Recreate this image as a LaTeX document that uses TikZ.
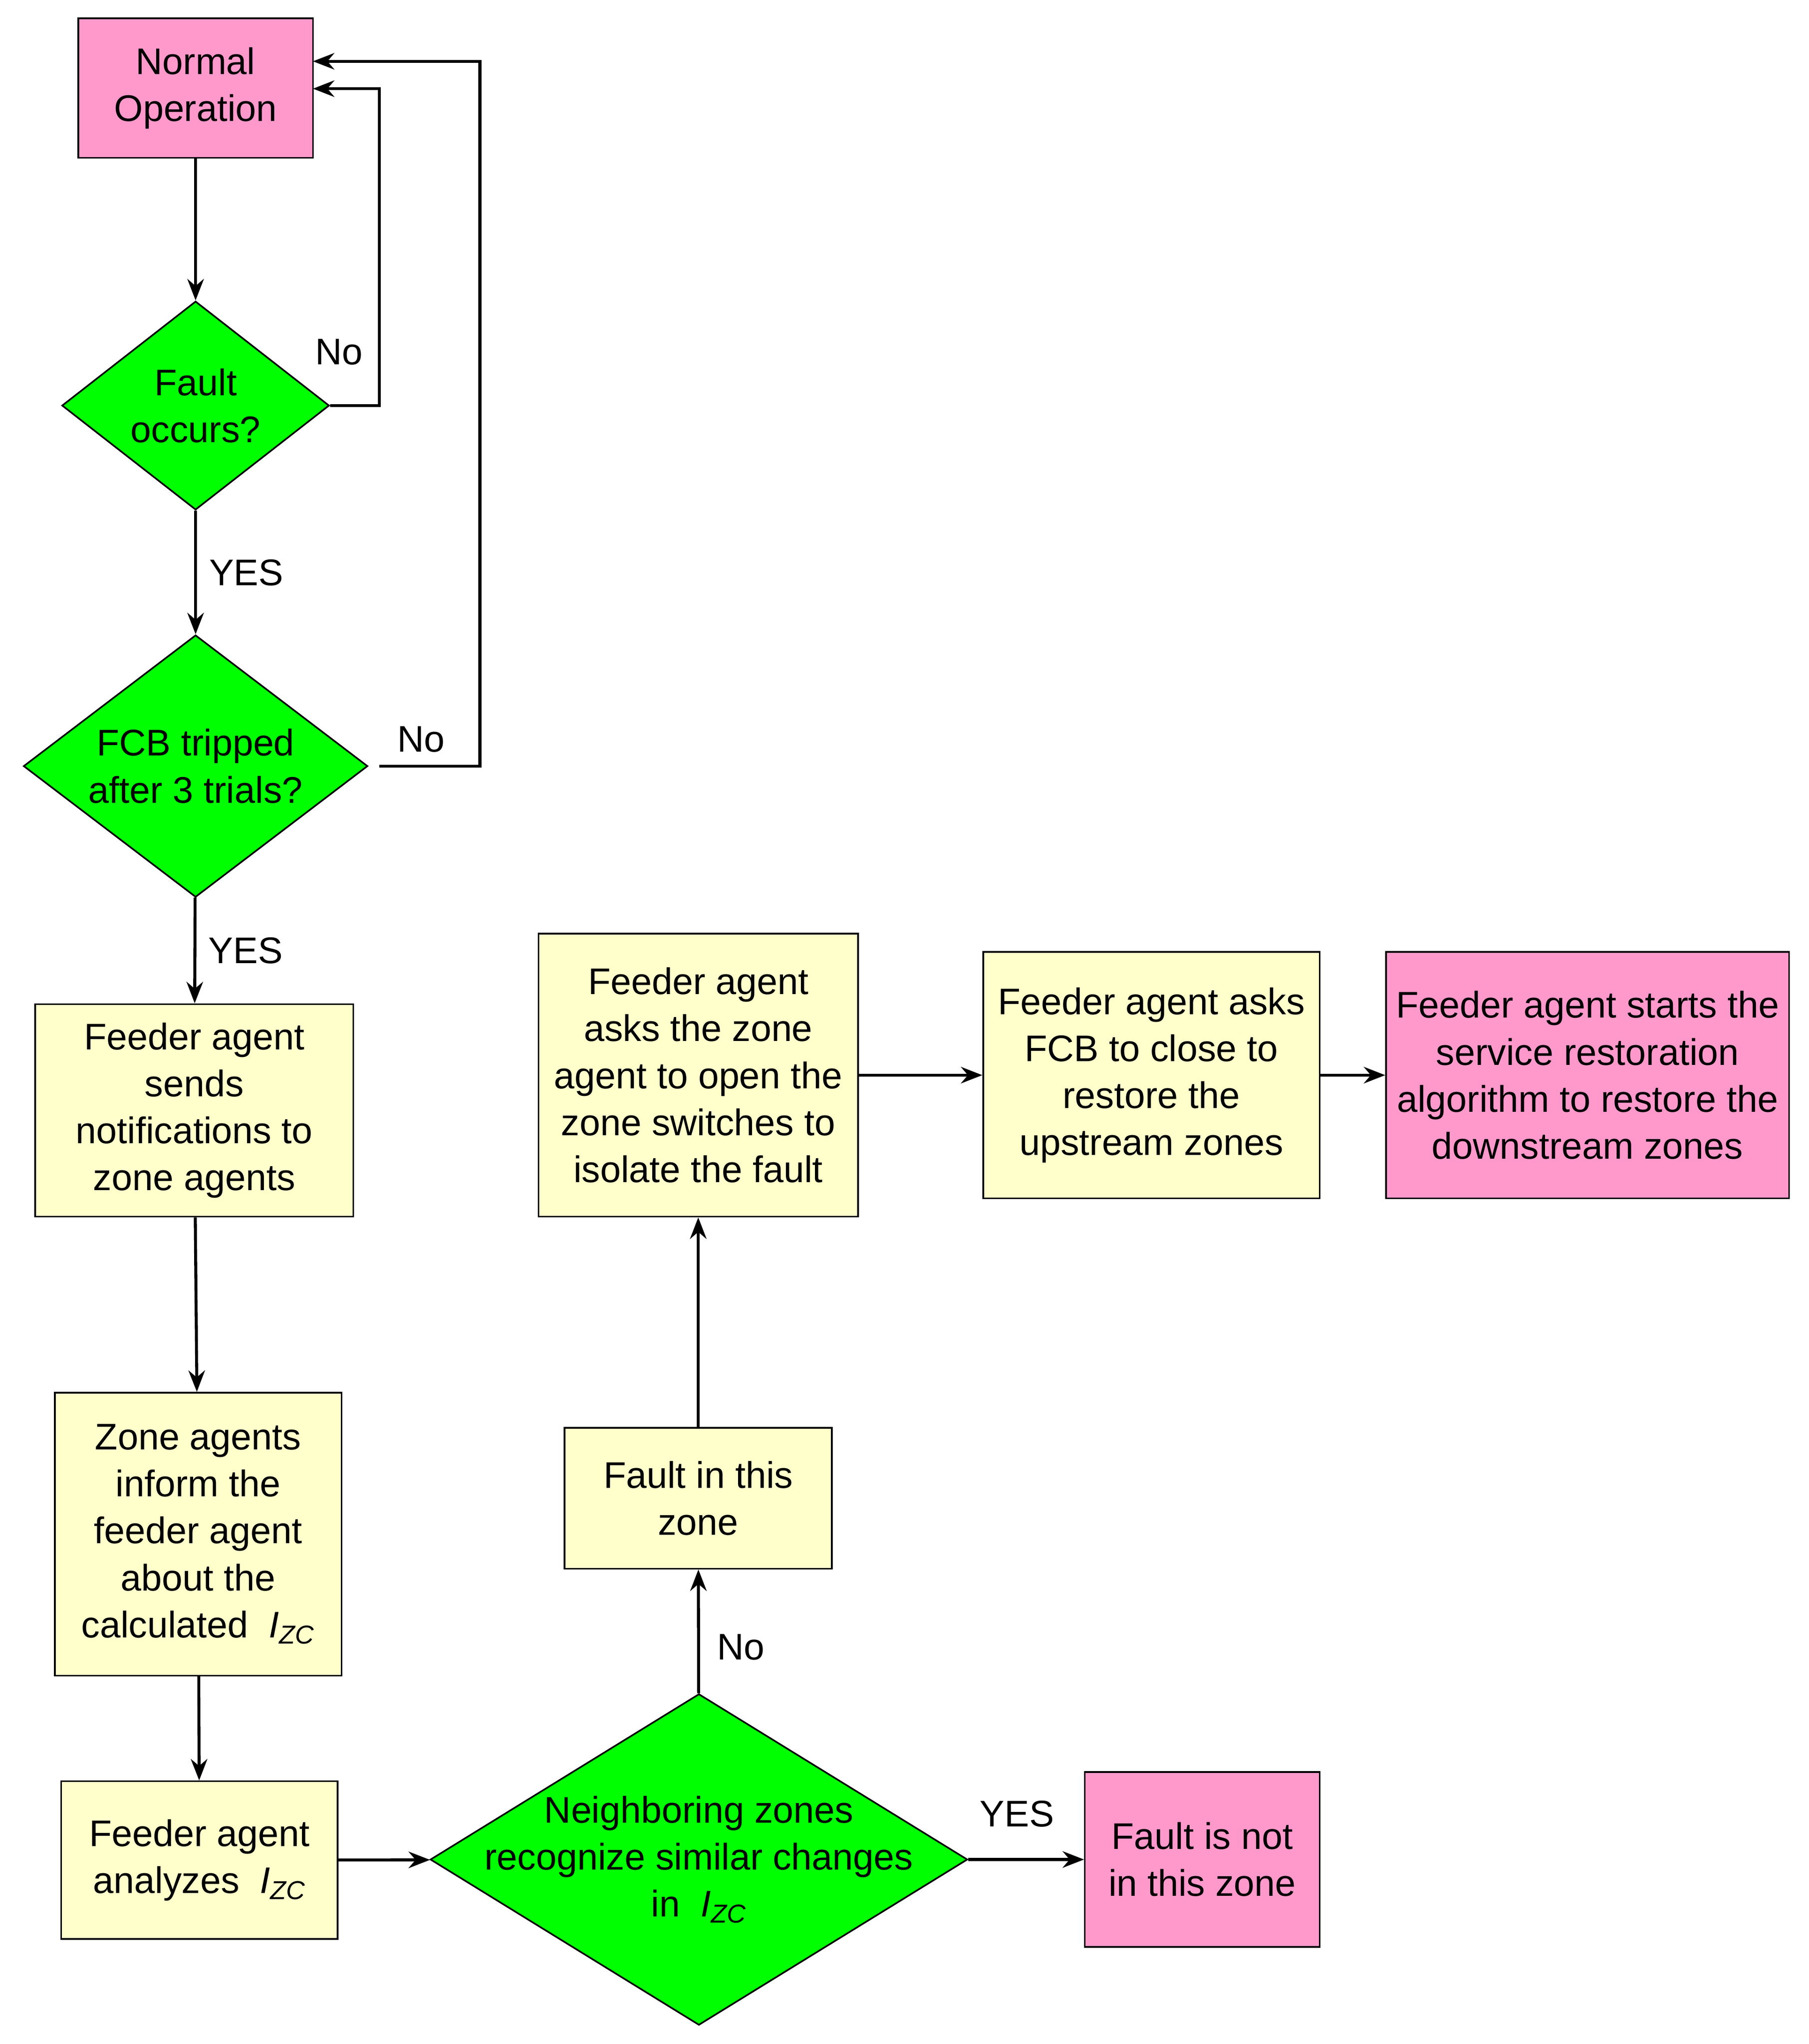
\documentclass[tikz,border=0pt]{standalone}
\usepackage{fontspec}
\setmainfont{Liberation Sans}
\usetikzlibrary{shapes.geometric,arrows.meta}
\def\u{0.02781cm}
\definecolor{pk}{HTML}{FF99CC}
\definecolor{yl}{HTML}{FFFFCC}
\definecolor{gr}{HTML}{00FF00}
\newcommand{\Izc}{\textit{I}\textsubscript{\textit{ZC}}}
\begin{document}
\begin{tikzpicture}[x=0.02781cm,y=-0.02781cm,
  every node/.style={font=\fontsize{22.5}{28.5}\selectfont, align=center},
  box/.style={draw, line width=1pt, inner sep=2pt},
  dia/.style={draw, diamond, line width=1pt, fill=gr, inner sep=0pt},
  arr/.style={line width=1.8pt, -{Stealth[length=13pt,width=10pt]}},
  lab/.style={}]
\useasboundingbox (0,0) rectangle (1387,1567.5);
\node[box,fill=pk,minimum width=180*\u,minimum height=107*\u] (normal) at (150,67.5) {Normal\\Operation};
\node[dia,minimum width=205*\u,minimum height=160*\u,label={center:{Fault\\occurs?}}] (fault) at (150,311) {};
\node[dia,minimum width=264*\u,minimum height=201*\u,label={center:{FCB tripped\\after 3 trials?}}] (fcb) at (150,587.5) {};
\node[box,fill=yl,minimum width=244*\u,minimum height=163*\u] (sends) at (149,851.5) {Feeder agent\\sends\\notifications to\\zone agents};
\node[box,fill=yl,minimum width=220*\u,minimum height=217*\u] (zone) at (152,1176.5) {Zone agents\\inform the\\feeder agent\\about the\\calculated \ \Izc};
\node[box,fill=yl,minimum width=212*\u,minimum height=121*\u] (anal) at (153,1426.5) {Feeder agent\\analyzes \ \Izc};
\node[dia,minimum width=412*\u,minimum height=254*\u,label={center:{Neighboring zones\\recognize similar changes\\in \ \Izc}}] (neigh) at (536,1426) {};
\node[box,fill=pk,minimum width=180*\u,minimum height=134*\u] (not) at (922,1426) {Fault is not\\in this zone};
\node[box,fill=yl,minimum width=205*\u,minimum height=108*\u] (inzone) at (535.5,1149) {Fault in this\\zone};
\node[box,fill=yl,minimum width=245*\u,minimum height=217*\u] (asks) at (535.5,824.5) {Feeder agent\\asks the zone\\agent to open the\\zone switches to\\isolate the fault};
\node[box,fill=yl,minimum width=258*\u,minimum height=189*\u] (fcbclose) at (883,824.5) {Feeder agent asks\\FCB to close to\\restore the\\upstream zones};
\node[box,fill=pk,minimum width=309*\u,minimum height=189*\u] (starts) at (1217.5,824.5) {Feeder agent starts the\\service restoration\\algorithm to restore the\\downstream zones};
\coordinate (n1) at (240,68);
\coordinate (n2) at (240,47);
\coordinate (f1) at (291,587.5);
\draw[arr] (normal) -- (fault);
\draw[arr] (fault.east) -- (291,311) -- (291,68) -- (n1);
\node at (260,270) {No};
\draw[arr] (fault) -- (fcb) node[midway,right=4pt] {YES};
\draw[arr] (f1) -- (368,587.5) -- (368,47) -- (n2);
\node at (323,567) {No};
\draw[arr] (fcb) -- (sends) node[midway,right=4pt] {YES};
\draw[arr] (sends) -- (zone);
\draw[arr] (zone) -- (anal);
\draw[arr] (anal) -- (neigh);
\draw[arr] (neigh) -- (not);
\node at (780,1391) {YES};
\draw[arr] (neigh) -- (inzone);
\node at (568,1263) {No};
\draw[arr] (inzone) -- (asks);
\draw[arr] (asks) -- (fcbclose);
\draw[arr] (fcbclose) -- (starts);
\end{tikzpicture}
\end{document}
